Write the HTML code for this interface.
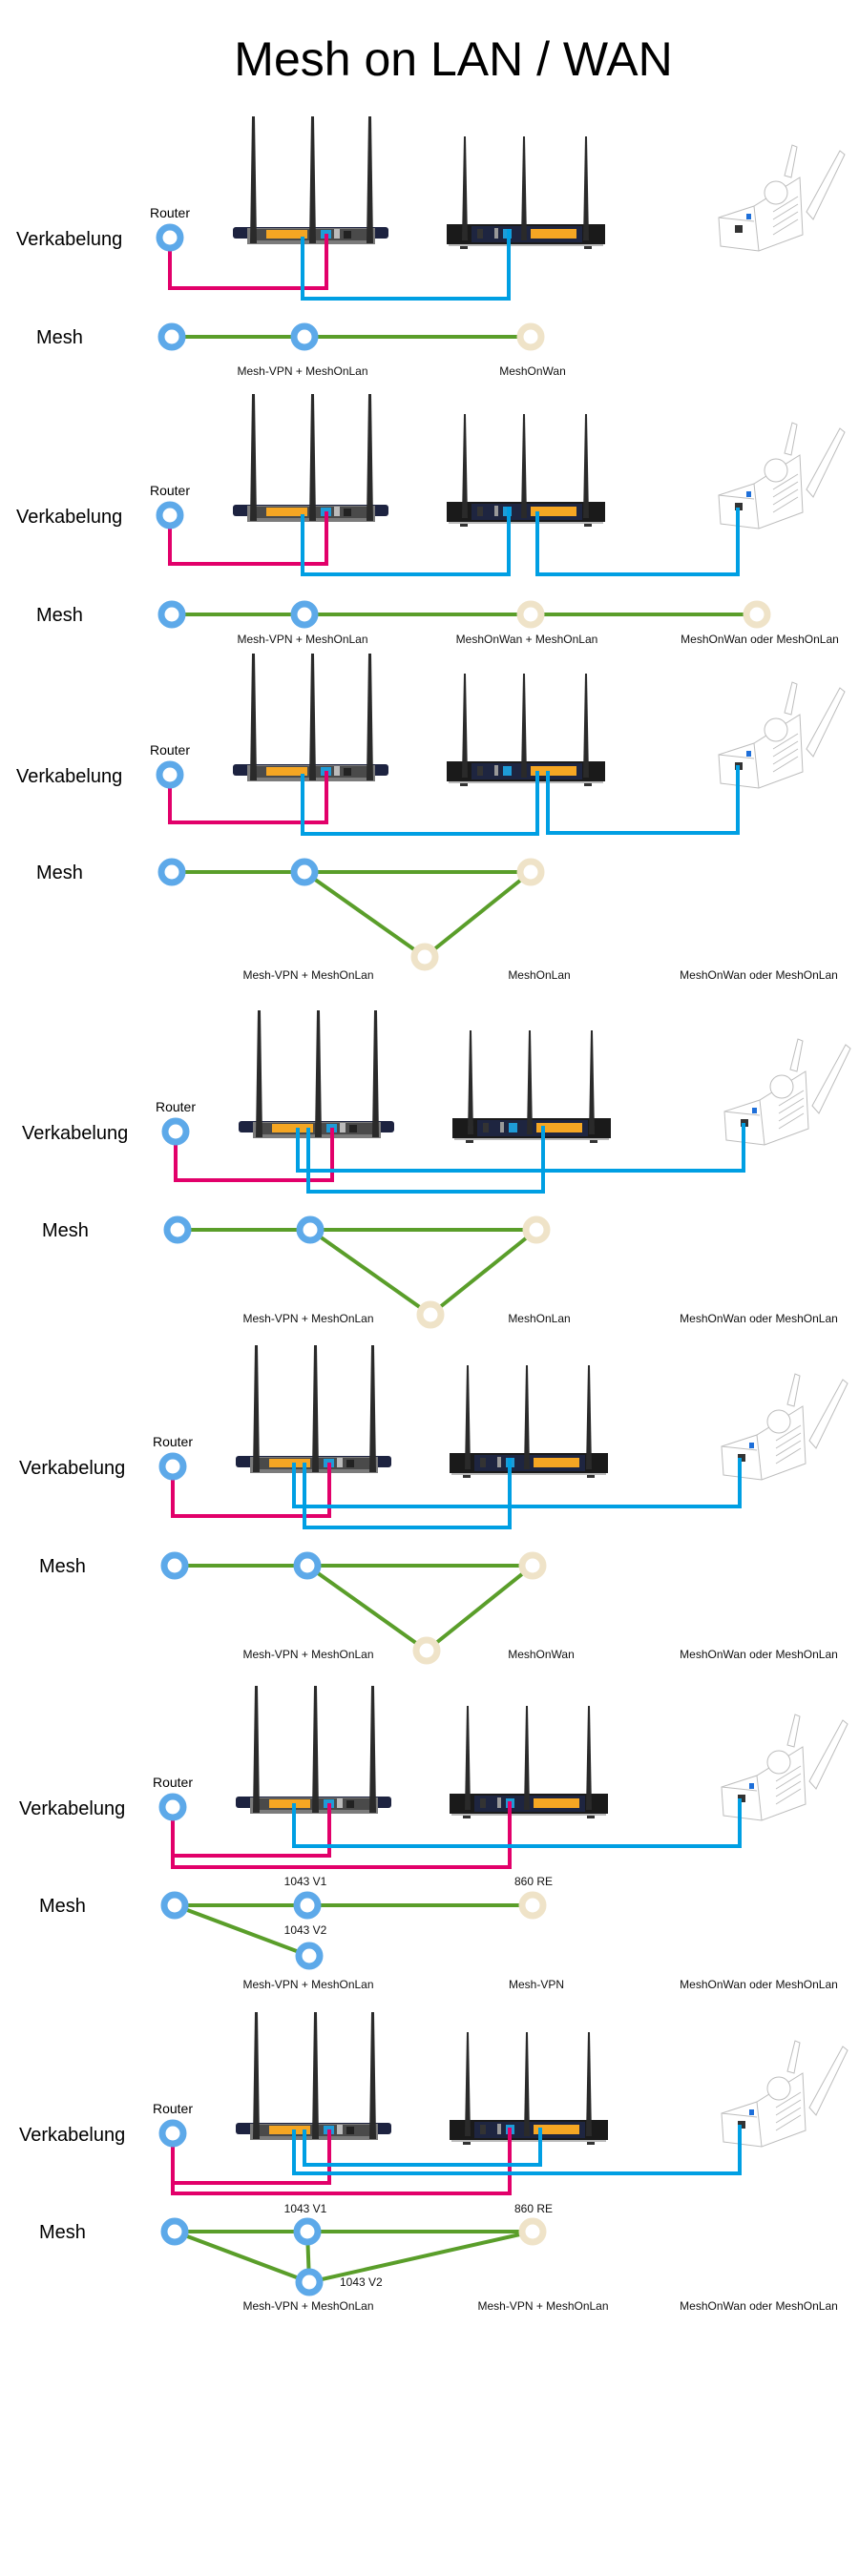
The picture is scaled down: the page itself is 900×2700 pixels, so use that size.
<!DOCTYPE html>
<html><head><meta charset="utf-8"><title>Mesh on LAN / WAN</title>
<style>
html,body{margin:0;padding:0;background:#fff;}
svg{display:block;font-family:"Liberation Sans",sans-serif;}
.pk{fill:none;stroke:#E2006A;stroke-width:4;}
.bl{fill:none;stroke:#009FE3;stroke-width:4;}
.gr{stroke:#5A9E2A;stroke-width:4;}
.nb{fill:#fff;stroke:#5DA9E9;stroke-width:7;}
.ne{fill:#fff;stroke:#EFE3C8;stroke-width:7;}
.lb{font-size:12px;fill:#111;text-anchor:middle;}
.big{font-size:20px;fill:#000;}
.rt{font-size:14px;fill:#000;text-anchor:middle;}
</style></head>
<body>
<svg width="900" height="2700" viewBox="0 0 900 2700">
<defs>
<g id="router1">
  <rect x="244" y="238" width="163" height="12" rx="3" fill="#1d2340"/>
  <rect x="259" y="239" width="134" height="17" fill="#7b7b7b"/>
  <rect x="263" y="240" width="126" height="12" fill="#4a4a4a"/>
  <rect x="279" y="241" width="43" height="9" fill="#F5A623"/>
  <rect x="336" y="241" width="11" height="9" fill="#1E9BD7"/>
  <rect x="350" y="240" width="6" height="10" fill="#bbb"/>
  <rect x="360" y="242" width="8" height="8" fill="#222"/>
  <polygon points="262,255 264,122 267,122 269,255" fill="#2a2a2a"/>
  <polygon points="324,255 326,122 329,122 331,255" fill="#2a2a2a"/>
  <polygon points="384,255 386,122 389,122 391,255" fill="#2a2a2a"/>
</g>
<g id="router2">
  <rect x="468" y="235" width="166" height="21" fill="#1a1a1a"/>
  <rect x="494" y="237" width="116" height="17" fill="#1e2540"/>
  <rect x="556" y="240" width="48" height="10" fill="#F5A623"/>
  <rect x="527" y="240" width="9" height="10" fill="#1E9BD7"/>
  <rect x="500" y="240" width="6" height="10" fill="#333"/>
  <rect x="518" y="239" width="4" height="11" fill="#999"/>
  <rect x="470" y="256" width="162" height="2" fill="#bbb"/>
  <rect x="482" y="258" width="8" height="3" fill="#333"/>
  <rect x="612" y="258" width="8" height="3" fill="#333"/>
  <polygon points="484,252 486,143 488,143 490,252" fill="#2a2a2a"/>
  <polygon points="546,252 548,143 550,143 552,252" fill="#2a2a2a"/>
  <polygon points="611,252 613,143 615,143 617,252" fill="#2a2a2a"/>
</g>
<g id="repeater" fill="#fff" stroke="#bdbdbd" stroke-width="1">
  <polygon points="845,222 880,158 885,162 852,230"/>
  <polygon points="822,184 830,152 835,154 829,186"/>
  <polygon points="753,228 790,216 838,186 841,246 795,263 755,258"/>
  <line x1="790" y1="216" x2="795" y2="263"/>
  <line x1="753" y1="228" x2="790" y2="232"/>
  <circle cx="813" cy="202" r="12"/>
  <rect x="770" y="236" width="8" height="8" fill="#333" stroke="none"/>
  <rect x="782" y="224" width="5" height="6" fill="#1E6FD9" stroke="none"/>
  <line x1="810" y1="222" x2="836" y2="206"/><line x1="810" y1="230" x2="836" y2="214"/>
  <line x1="810" y1="238" x2="836" y2="222"/><line x1="810" y1="246" x2="836" y2="230"/>
</g>
</defs>

<text x="475" y="79" font-size="50" text-anchor="middle" fill="#000">Mesh on LAN / WAN</text>

<!-- Section 1 -->
<g transform="translate(0,0)">
  <use href="#router1"/>
  <use href="#router2"/>
  <use href="#repeater"/>
  <text class="big" x="17" y="257">Verkabelung</text>
  <text class="rt" x="178" y="228">Router</text>
  <polyline class="pk" points="178,249 178,302 342,302 342,245"/>
  <polyline class="bl" points="317,248 317,313 533,313 533,240"/>
  <circle class="nb" cx="178" cy="249" r="11"/>
  <text class="big" x="38" y="360">Mesh</text>
  <line class="gr" x1="180" y1="353" x2="556" y2="353"/>
  <circle class="nb" cx="180" cy="353" r="11"/>
  <circle class="nb" cx="319" cy="353" r="11"/>
  <circle class="ne" cx="556" cy="353" r="11"/>
  <text class="lb" x="317" y="393">Mesh-VPN + MeshOnLan</text>
  <text class="lb" x="558" y="393">MeshOnWan</text>
</g>

<!-- Section 2 -->
<g transform="translate(0,291)">
  <use href="#router1"/><use href="#router2"/><use href="#repeater"/>
  <text class="big" x="17" y="257">Verkabelung</text>
  <text class="rt" x="178" y="228">Router</text>
  <polyline class="pk" points="178,249 178,300 342,300 342,245"/>
  <polyline class="bl" points="317,248 317,311 533,311 533,240"/>
  <polyline class="bl" points="563,245 563,311 773,311 773,241"/>
  <circle class="nb" cx="178" cy="249" r="11"/>
  <text class="big" x="38" y="360">Mesh</text>
  <line class="gr" x1="180" y1="353" x2="793" y2="353"/>
  <circle class="nb" cx="180" cy="353" r="11"/>
  <circle class="nb" cx="319" cy="353" r="11"/>
  <circle class="ne" cx="556" cy="353" r="11"/>
  <circle class="ne" cx="793" cy="353" r="11"/>
  <text class="lb" x="317" y="383">Mesh-VPN + MeshOnLan</text>
  <text class="lb" x="552" y="383">MeshOnWan + MeshOnLan</text>
  <text class="lb" x="796" y="383">MeshOnWan oder MeshOnLan</text>
</g>

<!-- Section 3 -->
<g transform="translate(0,563)">
  <use href="#router1"/><use href="#router2"/><use href="#repeater"/>
  <text class="big" x="17" y="257">Verkabelung</text>
  <text class="rt" x="178" y="228">Router</text>
  <polyline class="pk" points="178,249 178,299 342,299 342,245"/>
  <polyline class="bl" points="317,248 317,311 563,311 563,245"/>
  <polyline class="bl" points="574,245 574,310 773,310 773,239"/>
  <circle class="nb" cx="178" cy="249" r="11"/>
  <text class="big" x="38" y="358">Mesh</text>
  <line class="gr" x1="180" y1="351" x2="556" y2="351"/>
  <line class="gr" x1="319" y1="351" x2="445" y2="440"/>
  <line class="gr" x1="556" y1="351" x2="445" y2="440"/>
  <circle class="nb" cx="180" cy="351" r="11"/>
  <circle class="nb" cx="319" cy="351" r="11"/>
  <circle class="ne" cx="556" cy="351" r="11"/>
  <circle class="ne" cx="445" cy="440" r="11"/>
  <text class="lb" x="323" y="463">Mesh-VPN + MeshOnLan</text>
  <text class="lb" x="565" y="463">MeshOnLan</text>
  <text class="lb" x="795" y="463">MeshOnWan oder MeshOnLan</text>
</g>

<!-- Section 4 -->
<g transform="translate(6,937)">
  <use href="#router1"/><use href="#router2"/><use href="#repeater"/>
  <text class="big" x="17" y="257">Verkabelung</text>
  <text class="rt" x="178" y="228">Router</text>
  <polyline class="pk" points="178,249 178,300 342,300 342,245"/>
  <polyline class="bl" points="306,245 306,290 773,290 773,240"/>
  <polyline class="bl" points="317,245 317,312 563,312 563,243"/>
  <circle class="nb" cx="178" cy="249" r="11"/>
  <text class="big" x="38" y="359">Mesh</text>
  <line class="gr" x1="180" y1="352" x2="556" y2="352"/>
  <line class="gr" x1="319" y1="352" x2="445" y2="441"/>
  <line class="gr" x1="556" y1="352" x2="445" y2="441"/>
  <circle class="nb" cx="180" cy="352" r="11"/>
  <circle class="nb" cx="319" cy="352" r="11"/>
  <circle class="ne" cx="556" cy="352" r="11"/>
  <circle class="ne" cx="445" cy="441" r="11"/>
  <text class="lb" x="317" y="449">Mesh-VPN + MeshOnLan</text>
  <text class="lb" x="559" y="449">MeshOnLan</text>
  <text class="lb" x="789" y="449">MeshOnWan oder MeshOnLan</text>
</g>

<!-- Section 5 -->
<g transform="translate(3,1288)">
  <use href="#router1"/><use href="#router2"/><use href="#repeater"/>
  <text class="big" x="17" y="257">Verkabelung</text>
  <text class="rt" x="178" y="228">Router</text>
  <polyline class="pk" points="178,249 178,301 342,301 342,245"/>
  <polyline class="bl" points="305,245 305,291 772,291 772,240"/>
  <polyline class="bl" points="316,245 316,313 531,313 531,240"/>
  <circle class="nb" cx="178" cy="249" r="11"/>
  <text class="big" x="38" y="360">Mesh</text>
  <line class="gr" x1="180" y1="353" x2="555" y2="353"/>
  <line class="gr" x1="319" y1="353" x2="444" y2="442"/>
  <line class="gr" x1="555" y1="353" x2="444" y2="442"/>
  <circle class="nb" cx="180" cy="353" r="11"/>
  <circle class="nb" cx="319" cy="353" r="11"/>
  <circle class="ne" cx="555" cy="353" r="11"/>
  <circle class="ne" cx="444" cy="442" r="11"/>
  <text class="lb" x="320" y="450">Mesh-VPN + MeshOnLan</text>
  <text class="lb" x="564" y="450">MeshOnWan</text>
  <text class="lb" x="792" y="450">MeshOnWan oder MeshOnLan</text>
</g>

<!-- Section 6 -->
<g transform="translate(3,1645)">
  <use href="#router1"/><use href="#router2"/><use href="#repeater"/>
  <text class="big" x="17" y="257">Verkabelung</text>
  <text class="rt" x="178" y="228">Router</text>
  <polyline class="pk" points="178,249 178,300 342,300 342,245"/>
  <polyline class="pk" points="178,249 178,312 531,312 531,243"/>
  <polyline class="bl" points="305,245 305,290 772,290 772,240"/>
  <circle class="nb" cx="178" cy="249" r="11"/>
  <text class="big" x="38" y="359">Mesh</text>
  <line class="gr" x1="180" y1="352" x2="555" y2="352"/>
  <line class="gr" x1="180" y1="352" x2="321" y2="405"/>
  <circle class="nb" cx="180" cy="352" r="11"/>
  <circle class="nb" cx="319" cy="352" r="11"/>
  <circle class="ne" cx="555" cy="352" r="11"/>
  <circle class="nb" cx="321" cy="405" r="11"/>
  <text class="lb" x="317" y="331">1043 V1</text>
  <text class="lb" x="556" y="331">860 RE</text>
  <text class="lb" x="317" y="382">1043 V2</text>
  <text class="lb" x="320" y="439">Mesh-VPN + MeshOnLan</text>
  <text class="lb" x="559" y="439">Mesh-VPN</text>
  <text class="lb" x="792" y="439">MeshOnWan oder MeshOnLan</text>
</g>

<!-- Section 7 -->
<g transform="translate(3,1987)">
  <use href="#router1"/><use href="#router2"/><use href="#repeater"/>
  <text class="big" x="17" y="257">Verkabelung</text>
  <text class="rt" x="178" y="228">Router</text>
  <polyline class="pk" points="178,249 178,301 342,301 342,245"/>
  <polyline class="pk" points="178,249 178,312 531,312 531,243"/>
  <polyline class="bl" points="305,245 305,291 772,291 772,240"/>
  <polyline class="bl" points="316,245 316,282 563,282 563,243"/>
  <circle class="nb" cx="178" cy="249" r="11"/>
  <text class="big" x="38" y="359">Mesh</text>
  <line class="gr" x1="180" y1="352" x2="555" y2="352"/>
  <line class="gr" x1="180" y1="352" x2="321" y2="405"/>
  <line class="gr" x1="319" y1="352" x2="321" y2="405"/>
  <line class="gr" x1="555" y1="352" x2="321" y2="405"/>
  <circle class="nb" cx="180" cy="352" r="11"/>
  <circle class="nb" cx="319" cy="352" r="11"/>
  <circle class="ne" cx="555" cy="352" r="11"/>
  <circle class="nb" cx="321" cy="405" r="11"/>
  <text class="lb" x="317" y="332">1043 V1</text>
  <text class="lb" x="556" y="332">860 RE</text>
  <text class="lb" x="353" y="409" style="text-anchor:start">1043 V2</text>
  <text class="lb" x="320" y="434">Mesh-VPN + MeshOnLan</text>
  <text class="lb" x="566" y="434">Mesh-VPN + MeshOnLan</text>
  <text class="lb" x="792" y="434">MeshOnWan oder MeshOnLan</text>
</g>
</svg>
</body></html>
